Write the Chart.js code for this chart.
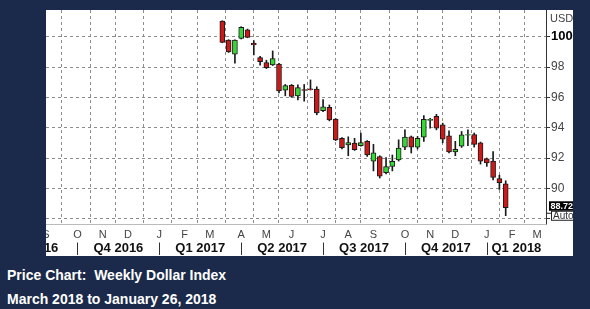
<!DOCTYPE html>
<html><head><meta charset="utf-8">
<script src="https://cdn.jsdelivr.net/npm/chart.js@4.4.1/dist/chart.umd.min.js"></script>
<style>
html,body{margin:0;padding:0;background:#1b2a4a;width:590px;height:309px;overflow:hidden;}
#wrap{position:absolute;left:46px;top:10px;width:527px;height:246px;background:#fff;overflow:hidden;}
canvas{display:block;}
.cap{position:absolute;left:7px;color:#fff;font:bold 14px 'Liberation Sans',Arial,sans-serif;line-height:16px;white-space:pre;}
</style></head><body>
<div id="wrap"><canvas id="c" width="527" height="246"></canvas></div>
<div class="cap" style="top:267px">Price Chart:  Weekly Dollar Index</div>
<div class="cap" style="top:290.5px">March 2018 to January 26, 2018</div>
<script>
// ---- data ----
const axisStart = '2016-09-02';
const weeks = ['2017-03-17','2017-03-24','2017-03-31','2017-04-07','2017-04-14','2017-04-21','2017-04-28',
 '2017-05-05','2017-05-12','2017-05-19','2017-05-26','2017-06-02','2017-06-09','2017-06-16','2017-06-23','2017-06-30',
 '2017-07-07','2017-07-14','2017-07-21','2017-07-28','2017-08-04','2017-08-11','2017-08-18','2017-08-25',
 '2017-09-01','2017-09-08','2017-09-15','2017-09-22','2017-09-29','2017-10-06','2017-10-13','2017-10-20','2017-10-27',
 '2017-11-03','2017-11-10','2017-11-17','2017-11-24','2017-12-01','2017-12-08','2017-12-15','2017-12-22','2017-12-29',
 '2018-01-05','2018-01-12','2018-01-19','2018-01-26'];
const open  = [101.03,99.78,98.84,99.89,100.46,99.58,98.62,98.30,98.14,98.20,96.48,96.80,96.10,96.52,96.56,96.55,
 95.13,95.35,94.57,93.30,92.86,92.98,92.82,93.10,91.80,92.10,91.03,91.45,91.88,92.72,93.40,92.72,93.38,
 94.48,94.75,94.19,93.47,92.40,92.78,93.50,93.55,93.00,91.95,91.80,90.65,90.30];
const high  = [101.05,99.80,99.80,100.66,100.50,99.74,98.70,98.45,99.06,98.25,96.85,96.85,96.82,96.85,97.15,96.70,
 95.85,95.50,94.60,93.35,93.40,93.30,93.64,93.15,92.90,92.15,92.03,92.20,93.20,93.86,93.45,93.42,94.80,
 94.62,94.88,94.30,93.80,93.10,93.75,93.86,93.65,93.05,92.00,92.43,90.87,90.50];
const low   = [99.60,98.96,98.25,99.85,99.93,98.80,98.13,97.90,98.10,96.30,96.10,96.00,95.83,95.75,96.48,94.85,
 95.05,94.45,93.15,92.60,92.15,92.50,92.78,92.10,91.15,90.68,90.95,91.15,91.80,92.55,92.33,92.60,93.10,
 93.97,93.86,93.00,92.33,92.15,92.70,92.81,92.72,91.60,91.45,90.55,89.93,88.20];
const close = [99.63,99.00,99.78,100.62,99.96,99.45,98.36,97.96,98.56,96.42,96.78,96.06,96.64,96.45,96.50,94.98,
 95.38,94.52,93.20,92.68,93.02,92.55,93.02,92.20,92.35,90.80,91.43,91.78,92.66,93.38,92.72,93.30,94.55,
 94.55,93.97,93.25,92.40,92.58,93.53,93.55,92.90,91.80,91.67,90.72,90.37,88.72];
const monthTickDates = ['2016-09-02','2016-10-07','2016-11-04','2016-12-02','2017-01-06','2017-02-03','2017-03-03',
 '2017-04-07','2017-05-05','2017-06-02','2017-07-07','2017-08-04','2017-09-01','2017-10-06','2017-11-03',
 '2017-12-01','2018-01-05','2018-02-02','2018-03-02'];
const monthLetters = ['S','O','N','D','J','F','M','A','M','J','J','A','S','O','N','D','J','F','M'];
const quarterStarts = ['2016-07-01','2016-10-07','2017-01-06','2017-04-07','2017-07-07','2017-10-06','2018-01-05','2018-04-06'];
const quarterLabels = ['Q3 2016','Q4 2016','Q1 2017','Q2 2017','Q3 2017','Q4 2017','Q1 2018'];
const yTicks = [88,90,92,94,96,98,100];
const currency = 'USD';
const modeLabel = 'Auto';

// ---- helpers ----
const wk = d => Math.round((Date.parse(d) - Date.parse(axisStart)) / (7 * 864e5));
const X_MIN = 0, X_MAX = 79.4, Y_MIN = 87.65, Y_MAX = 101.76;
const RED = '#cc1a1a', GREEN = '#35d835', EDGE = '#1a1a1a', GRID = '#8c8c8c';
const FONT = "'Liberation Sans', Arial, sans-serif";
Chart.defaults.font.family = FONT;

const idx = weeks.map(wk);
const bodies = idx.map((x, i) => ({x, y: [open[i], close[i]]}));
const wicks = idx.map((x, i) => ({x, y: [low[i], high[i]]}));
const bodyColors = close.map((c, i) => c >= open[i] ? GREEN : RED);

const monthIdx = monthTickDates.map(wk);
const qIdx = quarterStarts.map(wk);
const qCenters = quarterLabels.map((t, i) => (qIdx[i] + Math.min(qIdx[i + 1], X_MAX)) / 2);

const extras = {
  id: 'extras',
  afterDraw(chart) {
    const ctx = chart.ctx, ys = chart.scales.y, x2 = chart.scales.x2, ca = chart.chartArea;
    ctx.save();
    ctx.setLineDash([]);
    // solid axis lines
    ctx.strokeStyle = '#333'; ctx.lineWidth = 1;
    ctx.beginPath(); ctx.moveTo(ca.right + 0.5, ca.top); ctx.lineTo(ca.right + 0.5, ca.bottom + 0.5); ctx.stroke();
    ctx.strokeStyle = '#bbbbbb';
    ctx.beginPath(); ctx.moveTo(ca.left, ca.bottom + 0.5); ctx.lineTo(ca.right, ca.bottom + 0.5); ctx.stroke();
    // quarter separators
    ctx.strokeStyle = '#333';
    qIdx.forEach(v => {
      if (v < X_MIN || v > X_MAX) return;
      const px = Math.round(x2.getPixelForValue(v)) + 0.5;
      ctx.beginPath(); ctx.moveTo(px, x2.top - 0.5); ctx.lineTo(px, x2.top + 12); ctx.stroke();
    });
    const last = close[close.length - 1];
    const py = ys.getPixelForValue(last);
    // currency label
    ctx.fillStyle = '#444'; ctx.font = '11px ' + FONT; ctx.textBaseline = 'middle'; ctx.textAlign = 'left';
    ctx.fillText(currency, ca.right + 4, 9);
    // last price box
    ctx.fillStyle = '#000'; ctx.fillRect(ca.right + 3, py - 6.5, 40, 9.5);
    ctx.fillStyle = '#fff'; ctx.font = 'bold 9px ' + FONT;
    ctx.fillText(last.toFixed(2), ca.right + 4.5, py - 1.5);
    // auto box
    ctx.fillStyle = '#fff'; ctx.fillRect(ca.right + 5.5, py + 3.5, 40, 9);
    ctx.strokeStyle = '#222'; ctx.strokeRect(ca.right + 5.5, py + 3.5, 40, 9);
    ctx.beginPath(); ctx.moveTo(ca.right, py + 5.5); ctx.lineTo(ca.right + 5.5, py + 5.5); ctx.stroke();
    ctx.fillStyle = '#333'; ctx.font = '10px ' + FONT;
    ctx.fillText(modeLabel, ca.right + 7, py + 8.2);
    ctx.restore();
  }
};

new Chart(document.getElementById('c'), {
  type: 'bar',
  data: {
    datasets: [
      {label: 'body', data: bodies, backgroundColor: bodyColors, borderColor: EDGE, borderWidth: 1,
       borderSkipped: false, barThickness: 5, grouped: false, order: 0},
      {label: 'wick', data: wicks, backgroundColor: EDGE, borderWidth: 0, barThickness: 1, grouped: false, order: 1}
    ]
  },
  options: {
    responsive: false, animation: false, devicePixelRatio: 1,
    layout: {padding: 0},
    plugins: {legend: {display: false}, tooltip: {enabled: false}},
    scales: {
      x: {
        type: 'linear', min: X_MIN, max: X_MAX, offset: false, position: 'bottom', weight: 0,
        afterBuildTicks: s => { s.ticks = monthIdx.map(v => ({value: v})); },
        afterFit: s => { s.height = 19; s.paddingLeft = 0; s.paddingRight = 0; },
        grid: {color: GRID, drawTicks: false, lineWidth: 1},
        border: {display: false, dash: [3, 3]},
        ticks: {autoSkip: false, maxRotation: 0, padding: 4, color: '#444', font: {size: 11},
                callback: (v, i) => monthLetters[i]}
      },
      x2: {
        type: 'linear', min: X_MIN, max: X_MAX, offset: false, position: 'bottom', weight: 1,
        afterBuildTicks: s => { s.ticks = qCenters.map(v => ({value: v})); },
        afterFit: s => { s.height = 13; s.paddingLeft = 0; s.paddingRight = 0; },
        grid: {drawOnChartArea: false, drawTicks: false},
        border: {display: false},
        ticks: {autoSkip: false, maxRotation: 0, padding: -2.5, color: '#111', font: {size: 13, weight: 'bold'},
                callback: (v, i) => quarterLabels[i]}
      },
      y: {
        type: 'linear', position: 'right', min: Y_MIN, max: Y_MAX,
        afterBuildTicks: s => { s.ticks = yTicks.map(v => ({value: v})); },
        afterFit: s => { s.width = 27; s.paddingTop = 0; s.paddingBottom = 0; },
        grid: {color: GRID, tickLength: 4, tickColor: '#333', tickBorderDash: []},
        border: {display: false, dash: [3, 3]},
        ticks: {padding: 1, autoSkip: false,
                color: c => (c.tick && c.tick.value === 100) ? '#000' : '#444',
                font: c => (c.tick && c.tick.value === 100) ? {size: 13, weight: 'bold'} : {size: 12},
                callback: v => v === 88 ? '' : String(v)}
      }
    }
  },
  plugins: [extras]
});
</script>
</body></html>
